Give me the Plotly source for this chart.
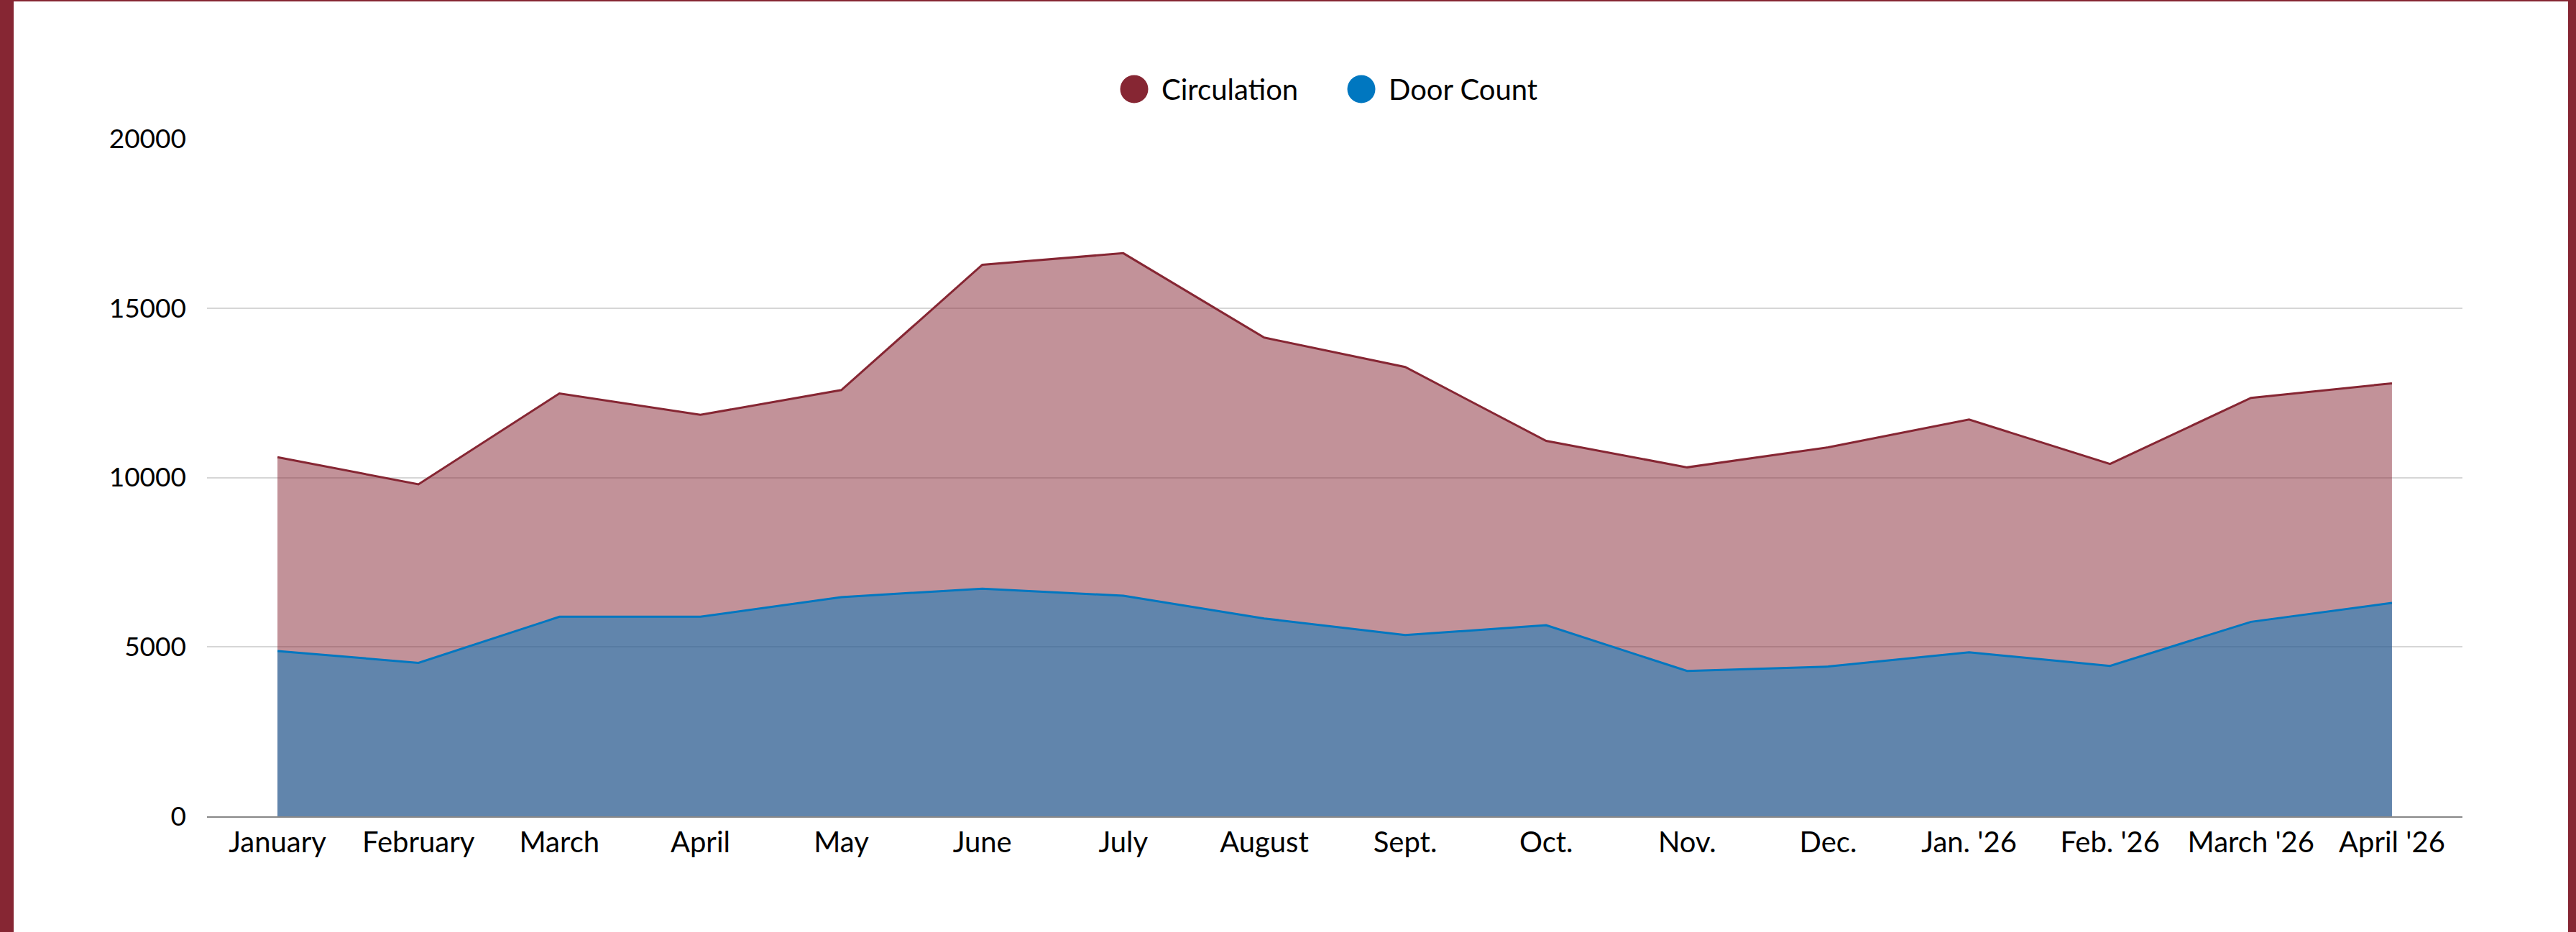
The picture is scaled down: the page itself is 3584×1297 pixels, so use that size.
import plotly.graph_objects as go

months = ["January", "February", "March", "April", "May", "June", "July", "August",
          "Sept.", "Oct.", "Nov.", "Dec.", "Jan. '26", "Feb. '26", "March '26", "April '26"]
circulation = [10600, 9800, 12480, 11850, 12580, 16280, 16620, 14130,
               13260, 11080, 10300, 10890, 11710, 10400, 12350, 12780]
door_count = [4880, 4530, 5890, 5890, 6470, 6720, 6510, 5840,
              5350, 5640, 4290, 4420, 4840, 4440, 5740, 6300]
series_names = ["Circulation", "Door Count"]
y_ticks = [0, 5000, 10000, 15000, 20000]

RED = "#862633"
BLUE = "#0077c0"
FONT = "Lato"

W, H = 3584, 1297
ML, MR, MT, MB = 288, 158, 193, 161
PW = W - ML - MR
PH = H - MT - MB

fig = go.Figure()
fig.add_trace(go.Scatter(
    x=months, y=circulation, name=series_names[0], mode="lines",
    line=dict(color=RED, width=3), fill="tozeroy",
    fillcolor="rgba(134,38,51,0.5)", showlegend=False))
fig.add_trace(go.Scatter(
    x=months, y=door_count, name=series_names[1], mode="lines",
    line=dict(color=BLUE, width=3), fill="tozeroy",
    fillcolor="rgba(0,119,192,0.5)", showlegend=False))

def px_x(p):
    return (p - ML) / PW

def px_y(p):
    return (H - MB - p) / PH

shapes = [
    # page border
    dict(type="rect", xref="paper", yref="paper", x0=px_x(0), x1=px_x(19),
         y0=px_y(H), y1=px_y(0), fillcolor=RED, line=dict(width=0), layer="above"),
    dict(type="rect", xref="paper", yref="paper", x0=px_x(3573), x1=px_x(W),
         y0=px_y(H), y1=px_y(0), fillcolor=RED, line=dict(width=0), layer="above"),
    dict(type="rect", xref="paper", yref="paper", x0=px_x(0), x1=px_x(W),
         y0=px_y(2), y1=px_y(0), fillcolor=RED, line=dict(width=0), layer="above"),
]
annotations = []
legend_items = [(series_names[0], RED, 1578), (series_names[1], BLUE, 1894)]
ly = 124
for name, col, cx in legend_items:
    shapes.append(dict(type="circle", xref="paper", yref="paper",
                       x0=px_x(cx - 19.5), x1=px_x(cx + 19.5),
                       y0=px_y(ly + 19.5), y1=px_y(ly - 19.5),
                       fillcolor=col, line=dict(width=0)))
    annotations.append(dict(text=name, xref="paper", yref="paper",
                            x=px_x(cx + 36), y=px_y(ly), xanchor="left", yanchor="middle",
                            showarrow=False, font=dict(family=FONT, size=40, color="#000")))

fig.update_layout(
    width=W, height=H,
    margin=dict(l=ML, r=MR, t=MT, b=MB),
    paper_bgcolor="white", plot_bgcolor="white",
    showlegend=False,
    shapes=shapes, annotations=annotations,
    font=dict(family=FONT, color="#000"),
    xaxis=dict(type="category", range=[-0.5, len(months) - 0.5],
               showgrid=False, showline=True, linecolor="#888888", linewidth=2,
               ticks="", tickfont=dict(family=FONT, size=40, color="#000"),
               ticklabelstandoff=0, zeroline=False, fixedrange=True),
    yaxis=dict(range=[0, 20000], tickvals=y_ticks, tickformat="d",
               showgrid=True, gridcolor="#d6d6d6", gridwidth=1.5,
               showline=False, zeroline=False, ticks="",
               tickfont=dict(family=FONT, size=37, color="#000"),
               ticklabelstandoff=28, fixedrange=True),
)

fig.write_html("out.html", config={"displayModeBar": False},
               post_script="document.body.style.margin='0';document.body.style.overflow='hidden';")
